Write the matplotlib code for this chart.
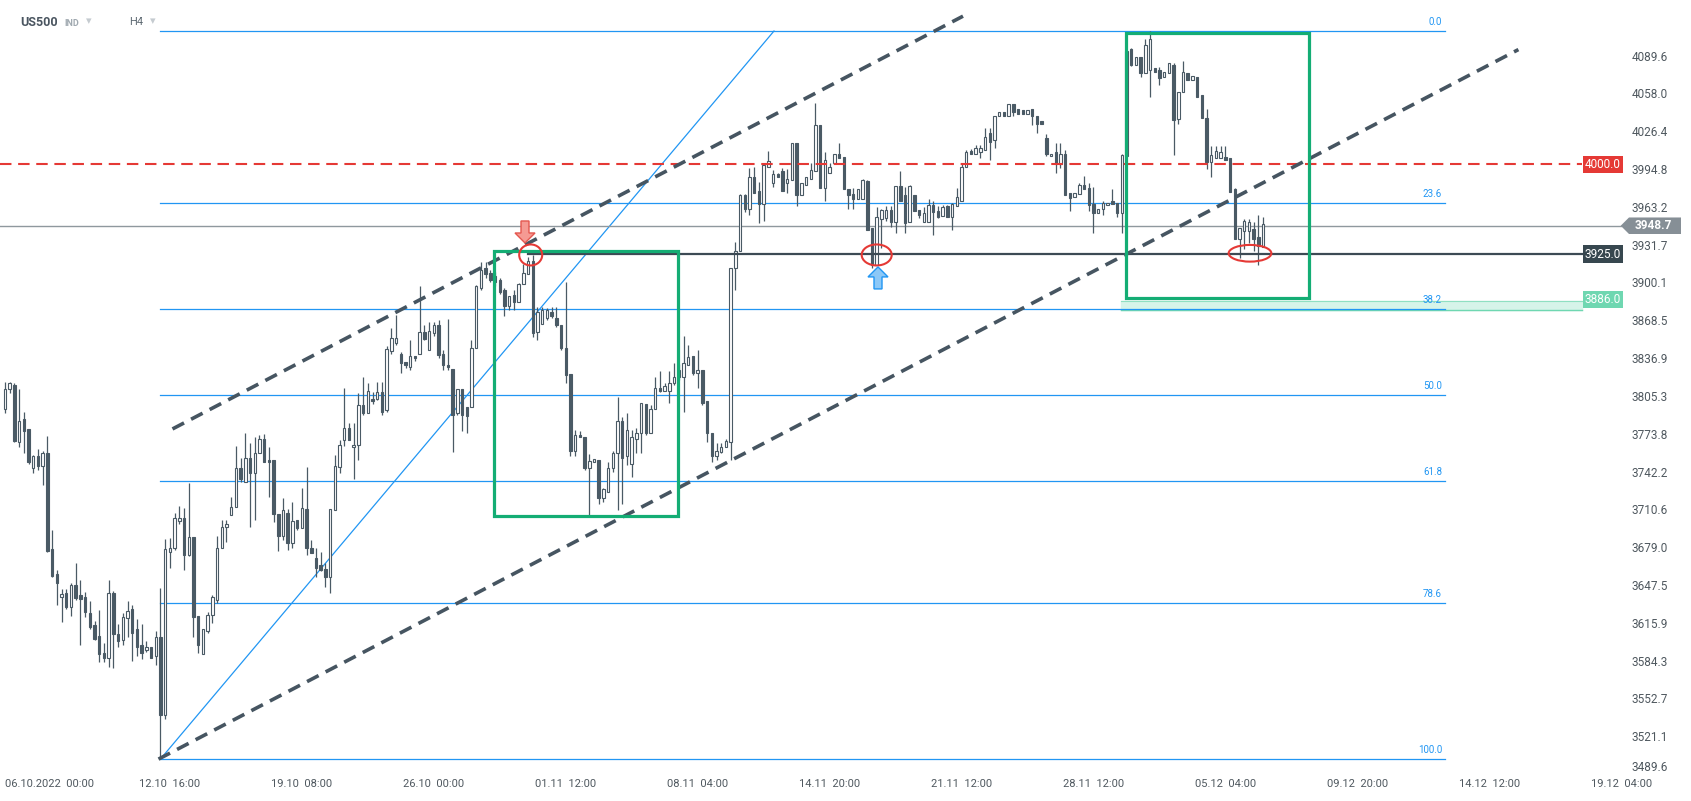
import numpy as np
import matplotlib
matplotlib.use("Agg")
import matplotlib.pyplot as plt
import matplotlib.transforms as mtransforms
from matplotlib.patches import Rectangle, Ellipse, Polygon

plt.rcParams['font.family'] = ['Roboto', 'DejaVu Sans']

# H4 candles of US500, left to right (open, high, low, close)
opens = [3796, 3812, 3816, 3768, 3787, 3779, 3746, 3756, 3748, 3759, 3679, 3658, 3639, 3642, 3630, 3649, 3640, 3639, 3625, 3615,
         3606, 3592, 3588, 3642, 3608, 3603, 3621, 3629, 3612, 3599, 3594, 3597, 3589, 3605, 3540, 3676, 3680, 3702, 3705, 3674,
         3689, 3623, 3591, 3610, 3624, 3636, 3680, 3697, 3707, 3714, 3746, 3735, 3755, 3742, 3759, 3771, 3753, 3753, 3708, 3690,
         3709, 3684, 3703, 3696, 3712, 3680, 3671, 3665, 3662, 3655, 3711, 3747, 3770, 3780, 3764, 3766, 3799, 3792, 3804, 3804,
         3810, 3795, 3844, 3851, 3842, 3835, 3831, 3840, 3842, 3860, 3845, 3859, 3866, 3842, 3832, 3829, 3792, 3812, 3797, 3797,
         3847, 3897, 3913, 3909, 3907, 3903, 3895, 3882, 3891, 3885, 3900, 3908, 3919, 3860, 3867, 3872, 3877, 3872, 3866, 3847,
         3825, 3761, 3774, 3772, 3746, 3751, 3753, 3721, 3726, 3746, 3759, 3786, 3756, 3750, 3771, 3776, 3800, 3776, 3796, 3813,
         3811, 3811, 3817, 3822, 3822, 3832, 3840, 3826, 3828, 3802, 3776, 3756, 3760, 3764, 3768, 3913, 3928, 3974, 3963, 3989,
         3978, 3967, 3998, 3984, 3992, 3994, 3984, 3987, 4018, 3974, 3983, 3988, 3994, 4033, 3980, 3993, 4001, 4009, 4006, 3979,
         3975, 3971, 3971, 3986, 3947, 3916, 3954, 3955, 3962, 3952, 3982, 3974, 3952, 3974, 3962, 3952, 3952, 3966, 3961, 3957,
         3965, 3956, 3965, 3969, 3998, 4011, 4009, 4010, 4012, 4026, 4020, 4040, 4044, 4040, 4050, 4046, 4045, 4042, 4046, 4040,
         4036, 4022, 4007, 4010, 4000, 4009, 3976, 3973, 3975, 3983, 3980, 3967, 3959, 3963, 3966, 3969, 3968, 3959, 4007, 4096,
         4083, 4090, 4076, 4079, 4080, 4079, 4073, 4076, 4083, 4038, 4060, 4076, 4070, 4073, 4058, 4039, 4002, 4005, 4005, 4006,
         4005, 3979, 3938, 3944, 3944, 3946, 3939, 3931]
highs = [3818, 3818, 3817, 3812, 3793, 3779, 3757, 3762, 3761, 3773, 3695, 3661, 3645, 3645, 3650, 3667, 3653, 3643, 3635, 3619,
         3628, 3600, 3653, 3644, 3616, 3625, 3635, 3632, 3620, 3616, 3602, 3597, 3610, 3646, 3687, 3688, 3709, 3715, 3713, 3734,
         3689, 3623, 3612, 3626, 3640, 3690, 3703, 3703, 3722, 3765, 3755, 3776, 3767, 3772, 3774, 3775, 3764, 3753, 3708, 3721,
         3712, 3718, 3703, 3730, 3747, 3686, 3680, 3676, 3667, 3712, 3757, 3770, 3813, 3784, 3784, 3809, 3822, 3817, 3810, 3818,
         3818, 3848, 3863, 3874, 3843, 3835, 3853, 3840, 3898, 3866, 3868, 3868, 3870, 3845, 3871, 3829, 3812, 3812, 3797, 3853,
         3899, 3918, 3918, 3912, 3910, 3905, 3897, 3890, 3895, 3901, 3917, 3923, 3924, 3881, 3881, 3880, 3881, 3881, 3866, 3902,
         3825, 3778, 3777, 3772, 3758, 3754, 3753, 3730, 3751, 3761, 3806, 3789, 3792, 3778, 3780, 3801, 3800, 3799, 3822, 3827,
         3817, 3827, 3834, 3833, 3857, 3849, 3840, 3845, 3828, 3802, 3776, 3767, 3767, 3771, 3913, 3935, 3975, 3975, 3997, 3998,
         3985, 3999, 4011, 3995, 3993, 3997, 3996, 4018, 4018, 3984, 3989, 4001, 4051, 4033, 4010, 4001, 4009, 4018, 4006, 3979,
         3980, 3979, 3988, 3987, 3947, 3964, 3963, 3965, 3965, 3982, 3994, 3981, 3983, 3974, 3962, 3964, 3971, 3969, 3965, 3966,
         3966, 3968, 3980, 4000, 4012, 4013, 4016, 4016, 4030, 4030, 4040, 4044, 4044, 4050, 4050, 4046, 4045, 4045, 4046, 4040,
         4036, 4025, 4009, 4018, 4018, 4012, 3976, 3976, 3984, 3990, 3984, 3981, 3963, 3969, 3968, 3979, 3968, 4009, 4097, 4097,
         4090, 4090, 4105, 4111, 4080, 4081, 4077, 4085, 4085, 4060, 4086, 4076, 4074, 4073, 4058, 4046, 4015, 4015, 4015, 4015,
         4005, 3980, 3947, 3954, 3954, 3952, 3958, 3956]
lows = [3792, 3809, 3768, 3764, 3759, 3750, 3742, 3745, 3732, 3676, 3655, 3632, 3618, 3629, 3623, 3636, 3599, 3622, 3612, 3603,
        3584, 3584, 3580, 3579, 3597, 3599, 3605, 3585, 3589, 3587, 3593, 3588, 3582, 3504, 3537, 3663, 3678, 3700, 3661, 3673,
        3605, 3592, 3591, 3609, 3617, 3634, 3680, 3685, 3707, 3714, 3735, 3735, 3697, 3703, 3759, 3751, 3722, 3701, 3677, 3686,
        3678, 3680, 3695, 3696, 3674, 3675, 3655, 3660, 3647, 3642, 3711, 3742, 3765, 3770, 3737, 3753, 3791, 3792, 3800, 3803,
        3791, 3793, 3842, 3849, 3826, 3830, 3828, 3836, 3842, 3853, 3845, 3857, 3838, 3828, 3828, 3760, 3791, 3777, 3776, 3797,
        3847, 3895, 3905, 3902, 3898, 3892, 3873, 3878, 3878, 3885, 3900, 3908, 3856, 3853, 3867, 3870, 3872, 3864, 3845, 3817,
        3756, 3756, 3772, 3745, 3706, 3751, 3716, 3718, 3726, 3743, 3711, 3716, 3749, 3739, 3759, 3759, 3774, 3776, 3796, 3810,
        3811, 3801, 3816, 3820, 3793, 3832, 3824, 3813, 3799, 3768, 3751, 3753, 3759, 3764, 3753, 3895, 3928, 3960, 3958, 3976,
        3951, 3953, 3998, 3981, 3989, 3978, 3976, 3987, 3965, 3974, 3983, 3988, 3994, 3980, 3969, 3993, 4001, 4005, 3979, 3963,
        3963, 3971, 3971, 3945, 3913, 3916, 3930, 3953, 3948, 3943, 3969, 3943, 3952, 3961, 3955, 3952, 3952, 3941, 3955, 3957,
        3956, 3945, 3965, 3969, 3998, 4009, 4009, 4005, 4012, 4004, 4014, 4040, 4040, 4040, 4040, 4042, 4042, 4042, 4033, 4026,
        4034, 4007, 4007, 3993, 3997, 3974, 3961, 3973, 3975, 3979, 3961, 3943, 3959, 3958, 3966, 3967, 3956, 3943, 4007, 4082,
        4083, 4073, 4076, 4056, 4077, 4066, 4073, 4076, 4008, 4034, 4060, 4070, 4070, 4056, 4039, 3996, 3989, 4005, 4005, 4004,
        3977, 3938, 3922, 3929, 3934, 3928, 3916, 3931]
closes = [3812, 3817, 3769, 3786, 3777, 3751, 3756, 3748, 3759, 3677, 3656, 3650, 3641, 3630, 3649, 3638, 3637, 3626, 3614, 3604,
          3591, 3588, 3642, 3608, 3602, 3622, 3627, 3609, 3597, 3592, 3597, 3588, 3605, 3540, 3679, 3680, 3705, 3705, 3674, 3689,
          3622, 3599, 3612, 3624, 3639, 3680, 3697, 3700, 3714, 3746, 3737, 3755, 3742, 3759, 3771, 3751, 3751, 3708, 3690, 3711,
          3684, 3702, 3696, 3713, 3680, 3675, 3663, 3661, 3655, 3712, 3748, 3766, 3780, 3770, 3766, 3799, 3792, 3811, 3802, 3810,
          3793, 3846, 3855, 3855, 3834, 3832, 3840, 3838, 3860, 3854, 3861, 3866, 3841, 3832, 3831, 3791, 3812, 3791, 3790, 3847,
          3898, 3912, 3908, 3903, 3902, 3893, 3882, 3890, 3885, 3900, 3909, 3919, 3859, 3877, 3878, 3878, 3873, 3866, 3847, 3824,
          3761, 3774, 3772, 3746, 3752, 3754, 3721, 3729, 3746, 3759, 3786, 3755, 3778, 3772, 3776, 3801, 3776, 3796, 3813, 3811,
          3815, 3817, 3822, 3828, 3834, 3839, 3826, 3828, 3801, 3776, 3756, 3761, 3764, 3769, 3913, 3928, 3974, 3963, 3989, 3976,
          3967, 3999, 4003, 3992, 3989, 3978, 3988, 4018, 3974, 3984, 3989, 3995, 4033, 3980, 4004, 3998, 4009, 4005, 3979, 3974,
          3971, 3979, 3987, 3945, 3916, 3956, 3962, 3962, 3952, 3982, 3969, 3951, 3982, 3961, 3958, 3959, 3966, 3960, 3956, 3964,
          3956, 3967, 3973, 3998, 4010, 4009, 4014, 4014, 4023, 4019, 4040, 4044, 4040, 4050, 4044, 4042, 4042, 4045, 4040, 4034,
          4034, 4009, 4009, 4000, 4009, 3974, 3972, 3976, 3983, 3979, 3966, 3959, 3963, 3968, 3968, 3967, 3959, 4008, 4095, 4083,
          4090, 4076, 4100, 4105, 4077, 4072, 4077, 4085, 4037, 4060, 4077, 4070, 4074, 4056, 4039, 4002, 4008, 4011, 4010, 4004,
          3977, 3938, 3947, 3953, 3952, 3938, 3932, 3950]

price_ticks = [4089.6, 4058.0, 4026.4, 3994.8, 3963.2, 3931.7, 3900.1, 3868.5, 3836.9, 3805.3,
               3773.8, 3742.2, 3710.6, 3679.0, 3647.5, 3615.9, 3584.3, 3552.7, 3521.1, 3489.6]
time_labels = ["06.10.2022  00:00", "12.10  16:00", "19.10  08:00", "26.10  00:00", "01.11  12:00",
               "08.11  04:00", "14.11  20:00", "21.11  12:00", "28.11  12:00", "05.12  04:00",
               "09.12  20:00", "14.12  12:00", "19.12  04:00"]
time_label_bars = [7, 35, 63, 91, 119, 147, 175, 203, 231, 259, 287, 315, 343]

fib_levels = [0.0, 23.6, 38.2, 50.0, 61.8, 78.6, 100.0]
fib_low, fib_high = 3503.4, 4111.3
last_price = 3948.7
resistance = 4000.0
support = 3925.0
zone_top, zone_bottom = 3886.0, 3878.5

CANDLE = '#4a5a65'
BLUE = '#2196f3'
RED = '#e53935'
GREEN = '#14ad74'
TEXT = '#4f585f'

W, H = 1691, 801
BAR_PX, X0 = 4.712, 5.0


def bx(px):
    # pixel column of the screenshot -> bar position
    return (px - X0) / BAR_PX


fig = plt.figure(figsize=(W / 100, H / 100), dpi=100)
ax = fig.add_axes([0, 25 / H, 1, 776 / H])
ax.set_xlim(bx(0), bx(W))
ax.set_ylim(3489.2, 4137.2)
ax.axis('off')
right = mtransforms.blended_transform_factory(ax.transAxes, ax.transData)

# candles
o, h, l, c = (np.array(v, dtype=float) for v in (opens, highs, lows, closes))
x = np.arange(len(o))
up = c >= o
bottom = np.minimum(o, c)
height = np.maximum(np.abs(c - o), 0.7)
ax.vlines(x, l, h, color=CANDLE, lw=0.9, zorder=3)
ax.bar(x[up], height[up], bottom=bottom[up], width=0.52, color='white',
       edgecolor=CANDLE, linewidth=0.8, zorder=4)
ax.bar(x[~up], height[~up], bottom=bottom[~up], width=0.52, color=CANDLE,
       edgecolor=CANDLE, linewidth=0.8, zorder=4)

# fibonacci retracement
fib_start, fib_end = 33, bx(1445)
for lev in fib_levels:
    p = fib_high - lev / 100 * (fib_high - fib_low)
    ax.plot([fib_start, fib_end], [p, p], color=BLUE, lw=0.9, zorder=2)
    ax.text(fib_end - 0.6, p + 7.5, f"{lev:.1f}", ha='right', va='center',
            fontsize=7, color=BLUE)
ax.plot([fib_start, bx(774)], [fib_low, fib_high], color=BLUE, lw=0.9, zorder=2)

# horizontal levels
ax.plot([bx(0), bx(1582)], [resistance] * 2, color=RED, lw=1.5,
        ls=(0, (5.5, 3.2)), zorder=5)
ax.plot([bx(0), bx(1621)], [last_price] * 2, color='#8f989e', lw=1.0, zorder=2)
ax.plot([bx(528), bx(1582)], [support] * 2, color='#3c4a54', lw=1.6, zorder=5)
ax.fill_between([bx(1121), bx(1582)], zone_bottom, zone_top, color='#d6f4e9', zorder=1)
ax.plot([bx(1121), bx(1582)], [zone_top] * 2, color='#8fe0c2', lw=0.8, zorder=1)
ax.plot([bx(1121), bx(1582)], [zone_bottom] * 2, color='#6fd7b1', lw=1.0, zorder=1)

# channel
dash = dict(color='#465561', lw=2.6, ls=(0, (3.6, 2.2)), zorder=7)
ax.plot([bx(172.5), bx(963)], [3779.0, 4123.7], **dash)
ax.plot([bx(158.5), bx(1518.4)], [3503.3, 4095.8], **dash)

# boxes
for (x1, x2, p1, p2) in [(494, 678.3, 3705.9, 3927.6), (1125.7, 1309.3, 3888.7, 4109.4)]:
    ax.add_patch(Rectangle((bx(x1), p1), bx(x2) - bx(x1), p2 - p1, fill=False,
                           ec=GREEN, lw=2.3, zorder=8))

# ellipses
for (cx, cp, wpx, hpx) in [(530.7, 3924.3, 23, 21), (876.7, 3924.3, 30, 21), (1250, 3925.7, 42.7, 16.7)]:
    ax.add_patch(Ellipse((bx(cx), cp), wpx / BAR_PX, hpx * 0.835, fill=False,
                         ec=RED, lw=1.5, zorder=9))


# block arrows
def block_arrow(tip_bar, tip_price, direction, fc, ec):
    pts = [(0, 0), (-10, 10), (-4, 10), (-4, 22), (4, 22), (4, 10), (10, 10)]
    verts = [(tip_bar + dx / BAR_PX, tip_price + direction * dy * 0.835) for dx, dy in pts]
    ax.add_patch(Polygon(verts, closed=True, fc=fc, ec=ec, lw=1.0, zorder=10))


block_arrow(bx(525), 3934.3, 1, '#f59a93', '#e4574f')
block_arrow(bx(878), 3914.3, -1, '#8cc8f7', '#2196f3')

# price scale
for v in price_ticks:
    ax.text(1650 / W, max(v, 3496), f"{v:.1f}", transform=right, ha='center',
            va='center', fontsize=8.5, color=TEXT)

for val, bg in [(resistance, RED), (support, '#37474f'), (zone_top + 1, '#6fd7b1')]:
    ax.text(1603 / W, val, f"{val if val != zone_top + 1 else zone_top:.1f}", transform=right,
            ha='center', va='center', fontsize=8.5, color='white', zorder=12,
            bbox=dict(boxstyle='square,pad=0.18', fc=bg, ec='none'))

tag = [(1620.7 / W, last_price), (1629 / W, last_price + 6.9), (1681 / W, last_price + 6.9),
       (1681 / W, last_price - 6.9), (1629 / W, last_price - 6.9)]
ax.add_patch(Polygon(tag, closed=True, fc='#868f96', ec='none', transform=right, zorder=12))
ax.text(1653 / W, last_price, f"{last_price:.1f}", transform=right, ha='center',
        va='center', fontsize=8.5, fontweight='bold', color='white', zorder=13)

# time scale
xt = ax.get_xaxis_transform()
for i, (lab, b) in enumerate(zip(time_labels, time_label_bars)):
    if i == 0:
        ax.text(bx(5), -0.0103, lab, transform=xt, ha='left', va='center', fontsize=8, color=TEXT)
    else:
        ax.text(b, -0.0103, lab, transform=xt, ha='center', va='center', fontsize=8, color=TEXT)

# header
fig.text(20 / W, 1 - 22 / H, "US500", fontsize=9, fontweight='bold', color='#4a5560', va='center')
fig.text(64 / W, 1 - 23 / H, "IND", fontsize=6.5, fontweight='bold', color='#a0a9b0', va='center')
fig.text(86 / W, 1 - 21 / H, "\u25BE", fontsize=8, color='#c5cbd0', va='center')
fig.text(129 / W, 1 - 22 / H, "H4", fontsize=8, color='#5f6a73', va='center')
fig.text(150 / W, 1 - 21 / H, "\u25BE", fontsize=8, color='#c5cbd0', va='center')

fig.savefig("out.png", dpi=100, facecolor='white')
